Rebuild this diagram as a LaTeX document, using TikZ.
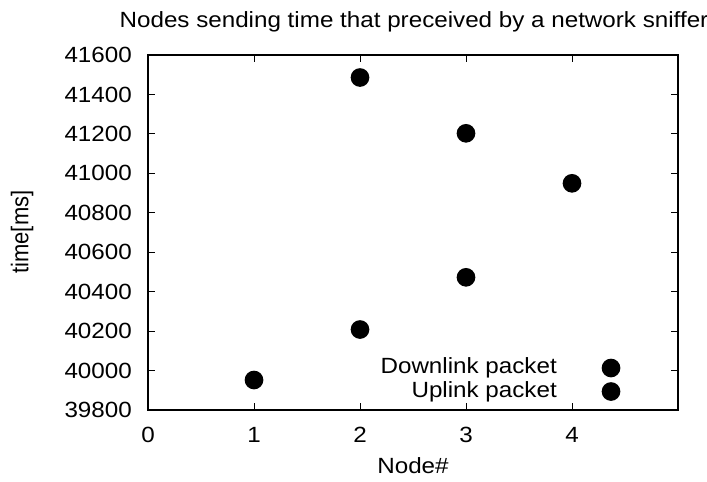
\documentclass[tikz,border=0pt]{standalone}
\usepackage{fontspec}
\setmainfont{Liberation Sans}
\newcommand{\hs}[1]{\scalebox{1.1}[1]{#1}}
\newcommand{\vs}[1]{\scalebox{1}[1.1]{#1}}
\tikzset{
  lbl/.style={inner sep=0pt, font=\fontsize{22}{26}\selectfont},
  frame/.style={line width=1.1pt, black},
  tickline/.style={line width=0.9pt, black},
  dot/.style={circle, fill=black, inner sep=0pt, minimum size=18.7pt}
}
\begin{document}
\begin{tikzpicture}[x=1pt,y=-1pt]
\useasboundingbox (0,0) rectangle (707,482);
% frame
\coordinate (ll) at (148,410);
\coordinate (ur) at (678,55);
% ticks y
\foreach \k/\lab in {0/39800,1/40000,2/40200,3/40400,4/40600,5/40800,6/41000,7/41200,8/41400,9/41600}{
  \pgfmathsetmacro{\yy}{410-\k*39.444}
  \draw[tickline] (148,\yy) -- (155,\yy);
  \draw[tickline] (678,\yy) -- (671,\yy);
  \node[lbl, anchor=east] (yl\k) at (132,\yy) {\hs{\lab}};
}
% ticks x
\foreach \n in {0,1,2,3,4}{
  \pgfmathsetmacro{\xx}{148+\n*106}
  \draw[tickline] (\xx,410) -- (\xx,403);
  \draw[tickline] (\xx,55) -- (\xx,62);
  \node[lbl] (xl\n) at (\xx,435) {\hs{\n}};
}
\draw[frame] (ll) rectangle (ur);
% labels
\node[lbl] (title) at (414,22) {\hs{Nodes sending time that preceived by a network sniffer}};
\node[lbl] (xlab) at (413,466) {\hs{Node\#}};
\node[lbl, rotate=90] (ylab) at (22,232) {\vs{time[ms]}};
% legend
\node[lbl, anchor=east] (leg1) at (557,368) {\hs{Downlink packet}};
\node[lbl, anchor=east] (leg2) at (557,391.5) {\hs{Uplink packet}};
\node[dot] (lk1) at (611,368) {};
\node[dot] (lk2) at (611,391.5) {};
% data
\node[dot] (d1) at (254,380) {};
\node[dot] (d2) at (360,329.5) {};
\node[dot] (d3) at (360,77.5) {};
\node[dot] (d4) at (466,133.3) {};
\node[dot] (d5) at (466,277.3) {};
\node[dot] (d6) at (572,183.3) {};
\end{tikzpicture}
\end{document}
